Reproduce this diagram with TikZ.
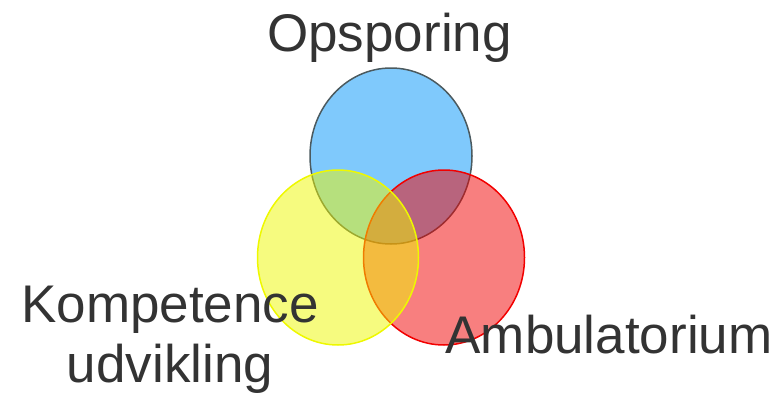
\documentclass[tikz,border=0pt]{standalone}
\usepackage{fontspec}
\setmainfont{Liberation Sans}
\definecolor{opsblue}{RGB}{0,148,250}
\definecolor{opsline}{RGB}{75,90,95}
\definecolor{ambred}{RGB}{242,0,0}
\definecolor{komyellow}{RGB}{238,248,0}
\definecolor{labelgray}{RGB}{51,51,51}
\tikzset{
  labeltext/.style={text=labelgray, font=\fontsize{53}{60}\selectfont, inner sep=0pt, anchor=base},
  venn/.style={fill opacity=0.5, line width=1.5pt}
}
\begin{document}
\begin{tikzpicture}[x=1pt,y=-1pt]
        \useasboundingbox (0,0) rectangle (779,394);
        % Circles
        \draw[venn, fill=opsblue, draw=opsline] (391,156) ellipse [x radius=81, y radius=88];
        \draw[venn, fill=ambred, draw=ambred] (444,257.5) ellipse [x radius=80.5, y radius=87.5];
        \draw[venn, fill=komyellow, draw=komyellow] (338,257.5) ellipse [x radius=80.5, y radius=87.5];

        % Labels
        \node[labeltext] (opsporing) at (389.5,51) {Opsporing};
        \node[labeltext, align=center] (kompetence) at (170,382) {Kompetence\\udvikling};
        \node[labeltext] (ambulatorium) at (609,353) {Ambulatorium};
\end{tikzpicture}
\end{document}
